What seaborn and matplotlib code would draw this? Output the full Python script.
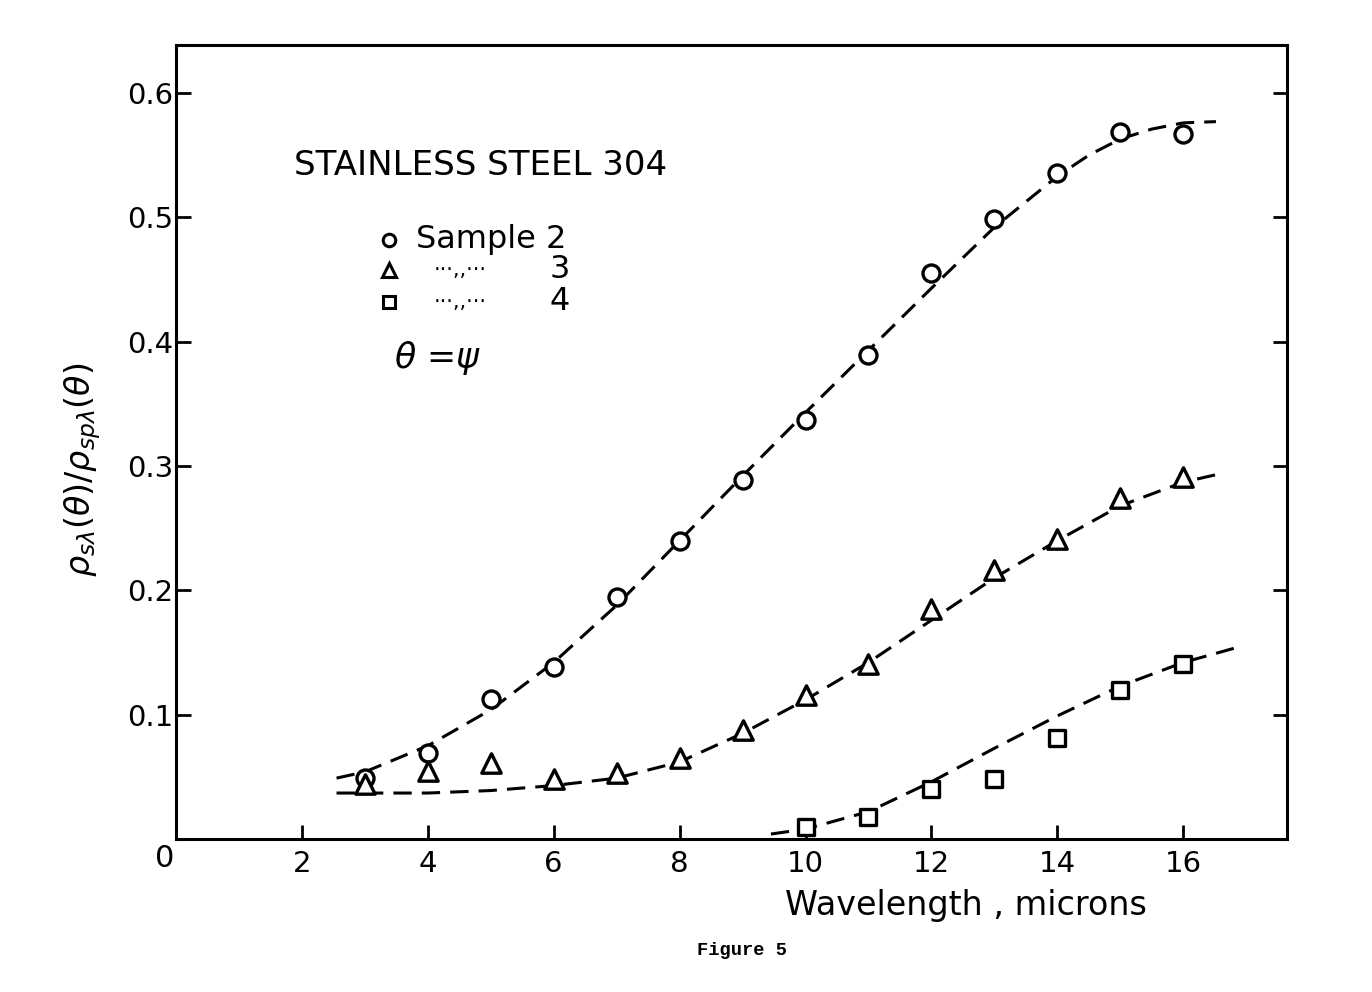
import matplotlib
matplotlib.use("Agg")
import matplotlib.pyplot as plt
import seaborn as sns
import pandas as pd

# ---- data ----
wl_pts = [3, 4, 5, 6, 7, 8, 9, 10, 11, 12, 13, 14, 15, 16]
sample2 = [0.049, 0.069, 0.113, 0.138, 0.195, 0.240, 0.289, 0.337, 0.389, 0.455, 0.499, 0.536, 0.569, 0.567]
sample3 = [0.044, 0.055, 0.061, 0.048, 0.053, 0.065, 0.088, 0.116, 0.141, 0.185, 0.216, 0.241, 0.274, 0.291]
wl_pts4 = [10, 11, 12, 13, 14, 15, 16]
sample4 = [0.010, 0.018, 0.040, 0.048, 0.081, 0.120, 0.141]

# dashed fitted curves
curve2_x = [2.55, 3, 4, 5, 6, 7, 8, 9, 10, 11, 12, 13, 14, 14.5, 15, 15.5, 16, 16.52]
curve2_y = [0.049, 0.054, 0.075, 0.104, 0.142, 0.188, 0.240, 0.292, 0.343, 0.393, 0.443, 0.492, 0.533, 0.550, 0.563, 0.571, 0.576, 0.577]
curve3_x = [2.55, 4, 5, 6, 7, 8, 9, 10, 11, 12, 13, 14, 15, 16, 16.52]
curve3_y = [0.037, 0.037, 0.039, 0.043, 0.049, 0.062, 0.085, 0.112, 0.142, 0.176, 0.210, 0.240, 0.268, 0.287, 0.293]
curve4_x = [9.45, 10, 11, 12, 13, 14, 15, 16, 16.92]
curve4_y = [0.004, 0.008, 0.022, 0.046, 0.073, 0.099, 0.123, 0.142, 0.155]

x_ticks = [2, 4, 6, 8, 10, 12, 14, 16]
y_ticks = [0.1, 0.2, 0.3, 0.4, 0.5, 0.6]

sns.set_style("ticks")
plt.rcParams['font.family'] = ['DejaVu Sans']
plt.rcParams['text.color'] = 'black'
plt.rcParams['xtick.color'] = 'black'
plt.rcParams['ytick.color'] = 'black'
plt.rcParams['xtick.labelcolor'] = 'black'
plt.rcParams['ytick.labelcolor'] = 'black'

fig = plt.figure(figsize=(13.72, 9.92), dpi=100)
ax = fig.add_axes([0.1283, 0.1542, 0.8098, 0.8004])

dash = (6, 3.3)
lw = 2.2
for cx, cy in [(curve2_x, curve2_y), (curve3_x, curve3_y), (curve4_x, curve4_y)]:
    d = pd.DataFrame({"x": cx, "y": cy})
    sns.lineplot(data=d, x="x", y="y", ax=ax, color="black", lw=lw,
                 linestyle=(0, dash), sort=False, estimator=None)

ms = 150
mew = 2.4
d2 = pd.DataFrame({"x": wl_pts, "y": sample2})
d3 = pd.DataFrame({"x": wl_pts, "y": sample3})
d4 = pd.DataFrame({"x": wl_pts4, "y": sample4})
sns.scatterplot(data=d2, x="x", y="y", ax=ax, marker="o", s=ms,
                facecolor="white", edgecolor="black", linewidth=mew, zorder=5)
sns.scatterplot(data=d3, x="x", y="y", ax=ax, marker="^", s=ms * 1.3,
                facecolor="white", edgecolor="black", linewidth=mew, zorder=5)
sns.scatterplot(data=d4, x="x", y="y", ax=ax, marker="s", s=ms * 0.9,
                facecolor="white", edgecolor="black", linewidth=mew, zorder=5)

ax.set_xlim(0.0, 17.65)
ax.set_ylim(0.0, 0.6386)
ax.set_xticks(x_ticks)
ax.set_yticks(y_ticks)
ax.set_xticklabels([str(t) for t in x_ticks], fontsize=21)
ax.set_yticklabels([f"{t:.1f}" for t in y_ticks], fontsize=21)
ax.set_xlabel("")
ax.set_ylabel("")

for s in ax.spines.values():
    s.set_linewidth(2.2)
    s.set_color("black")
ax.tick_params(axis="x", direction="in", length=10, width=2, pad=8, bottom=True, top=False)
ax.tick_params(axis="y", direction="in", length=11, width=2, pad=2, left=True)
# right side inward ticks
ax2 = ax.twinx()
ax2.set_ylim(ax.get_ylim())
ax2.set_yticks(y_ticks)
ax2.set_yticklabels([])
ax2.tick_params(axis="y", direction="in", length=10, width=2)
for s in ax2.spines.values():
    s.set_visible(False)

# shared origin label
ax.text(-0.01, -0.024, "0", transform=ax.transAxes, fontsize=22, ha="center", va="center")

# annotations
ax.text(1.88, 0.542, "STAINLESS STEEL 304", fontsize=24.5, ha="left", va="center")
ax.plot([3.39], [0.482], marker="o", ms=9, mfc="white", mec="black", mew=2.2)
ax.text(3.82, 0.482, "Sample 2", fontsize=23, ha="left", va="center")
ax.plot([3.39], [0.458], marker="^", ms=10, mfc="white", mec="black", mew=2.2)
ax.text(4.09, 0.458, "···,,···", fontsize=15, ha="left", va="center")
ax.text(5.93, 0.458, "3", fontsize=23, ha="left", va="center")
ax.plot([3.39], [0.432], marker="s", ms=9, mfc="white", mec="black", mew=2.2)
ax.text(4.09, 0.432, "···,,···", fontsize=15, ha="left", va="center")
ax.text(5.93, 0.432, "4", fontsize=23, ha="left", va="center")
ax.text(3.47, 0.387, r"$\theta$ =$\psi$", fontsize=25, ha="left", va="center",
        style="italic")

fig.text(0.06, 0.526, r"$\rho_{s\lambda}(\theta)/\rho_{sp\lambda}(\theta)$",
         rotation=90, fontsize=24, ha="center", va="center")
fig.text(0.572, 0.087, "Wavelength , microns", fontsize=24, ha="left", va="center")
fig.text(0.541, 0.042, "Figure 5", fontsize=13.5, ha="center", va="center",
         family="Liberation Mono", weight="bold")

fig.savefig("out.png", dpi=100, facecolor="white")
